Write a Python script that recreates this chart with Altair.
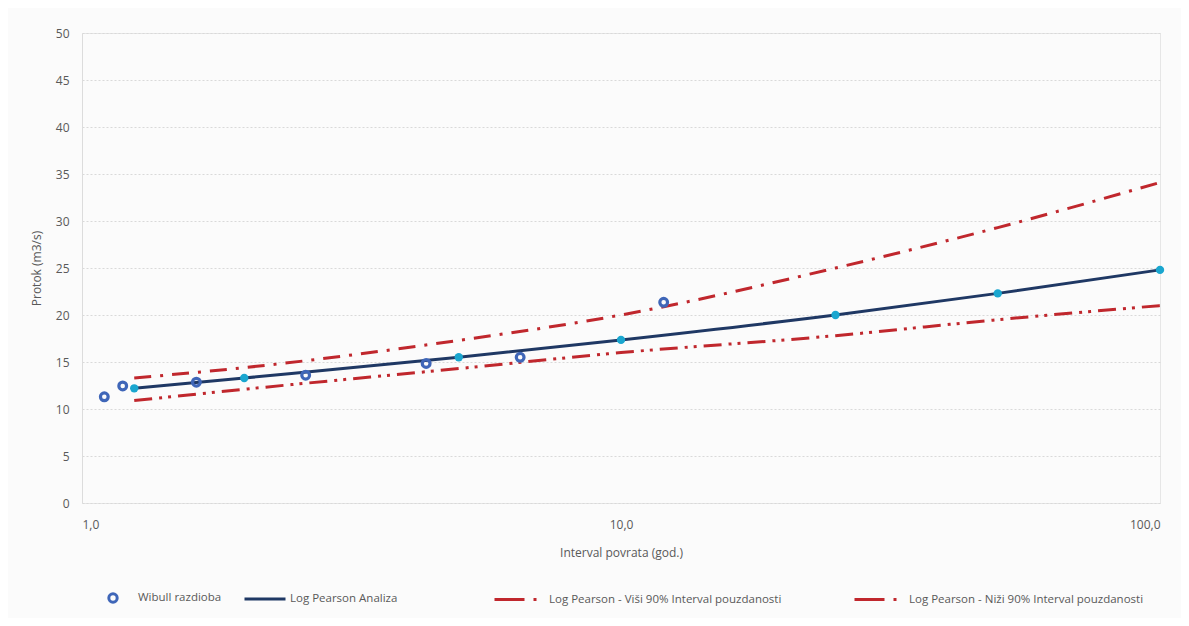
import altair as alt
import pandas as pd

# ---- data ----
S_WB = "Wibull razdioba"
S_LP = "Log Pearson Analiza"
S_UP = "Log Pearson - Viši 90% Interval pouzdanosti"
S_LO = "Log Pearson - Niži 90% Interval pouzdanosti"

wb_T = [1.1, 1.19, 1.63, 2.6, 4.35, 6.5, 12.0]
wb_Q = [11.3, 12.45, 12.85, 13.6, 14.85, 15.5, 21.35]

lp_T = [1.25, 2, 5, 10, 25, 50, 100]
lp_Q = [12.2, 13.3, 15.5, 17.35, 20.0, 22.3, 24.8]
up_Q = [13.3, 14.4, 17.3, 20.0, 25.0, 29.3, 34.1]
lo_Q = [10.9, 12.1, 14.3, 16.0, 17.8, 19.5, 21.0]

C_WB = "#3F66B8"
C_LP = "#1F3864"
C_LPM = "#1AA6CF"
C_CI = "#C0272D"

wb = pd.DataFrame({"T": wb_T, "Q": wb_Q, "s": S_WB})
lp = pd.DataFrame({"T": lp_T, "Q": lp_Q, "s": S_LP})
up = pd.DataFrame({"T": lp_T, "Q": up_Q, "s": S_UP})
lo = pd.DataFrame({"T": lp_T, "Q": lo_Q, "s": S_LO})

FONT = "Open Sans"
GREY = "#595959"

x = alt.X("T:Q", scale=alt.Scale(type="log", domain=[1, 100], nice=False),
          axis=alt.Axis(values=[1, 10, 100], title="Interval povrata (god.)",
                        labelExpr="replace(format(datum.value, '.1f'), '.', ',')",
                        grid=False, ticks=False, domain=False, labelPadding=16,
                        titlePadding=17))
y = alt.Y("Q:Q", scale=alt.Scale(domain=[0, 50], nice=False),
          axis=alt.Axis(values=list(range(0, 51, 5)), title="Protok (m3/s)",
                        ticks=False, domainColor="#dcdcdc", labelPadding=13,
                        titlePadding=12, gridColor="#d9d9d9", gridDash=[2, 2]))


def legend(lx, ly, shape, size, offset, dash=None):
    kw = dict(title=None, orient="none", legendX=lx, legendY=ly,
              labelFont=FONT, labelFontSize=11.5, labelColor=GREY, labelLimit=600,
              labelOffset=offset, symbolType=shape, symbolSize=size,
              symbolStrokeWidth=3, symbolFillColor="transparent")
    if dash is not None:
        kw["symbolDash"] = dash
    return alt.Legend(**kw)


def col(name, c, leg):
    return alt.Color("s:N", scale=alt.Scale(domain=[name], range=[c]), legend=leg)


lp_line = alt.Chart(lp).mark_line(strokeWidth=3, interpolate="monotone").encode(
    x=x, y=y, order="T:Q",
    color=col(S_LP, C_LP, legend(161, 544, "stroke", 1681, 3)))

up_line = alt.Chart(up).mark_line(strokeWidth=3, interpolate="monotone",
                                  strokeDash=[17, 9, 3, 9]).encode(
    x="T:Q", y="Q:Q", order="T:Q",
    color=col(S_UP, C_CI, legend(411, 544, "stroke", 1764, 11, [30, 9, 3, 20])))

lo_line = alt.Chart(lo).mark_line(strokeWidth=3, interpolate="monotone",
                                  strokeDash=[18, 7, 3, 6, 3, 7]).encode(
    x="T:Q", y="Q:Q", order="T:Q",
    color=col(S_LO, C_CI, legend(771, 544, "stroke", 1764, 11, [30, 9, 3, 20])))

lp_pts = alt.Chart(lp).mark_point(filled=True, size=70, color=C_LPM, opacity=1).encode(
    x="T:Q", y="Q:Q")

wb_pts = alt.Chart(wb).mark_point(filled=False, size=60, strokeWidth=3.2, opacity=1).encode(
    x="T:Q", y="Q:Q",
    color=col(S_WB, C_WB, legend(25, 559, "circle", 70, 19)))

chart = alt.layer(up_line, lo_line, lp_line, lp_pts, wb_pts).resolve_scale(
    color="independent"
).properties(
    width=1078, height=470,
    autosize=alt.AutoSizeParams(type="none"),
    padding={"left": 74, "top": 25, "right": 21, "bottom": 115},
    background="#fbfbfb",
).configure_view(stroke="#e6e6e6").configure_axis(
    labelFont=FONT, labelFontSize=12, labelColor=GREY,
    titleFont=FONT, titleFontSize=12, titleColor=GREY, titleFontWeight="normal",
)

chart.save("out.html", embed_options={"renderer": "svg", "actions": False})
